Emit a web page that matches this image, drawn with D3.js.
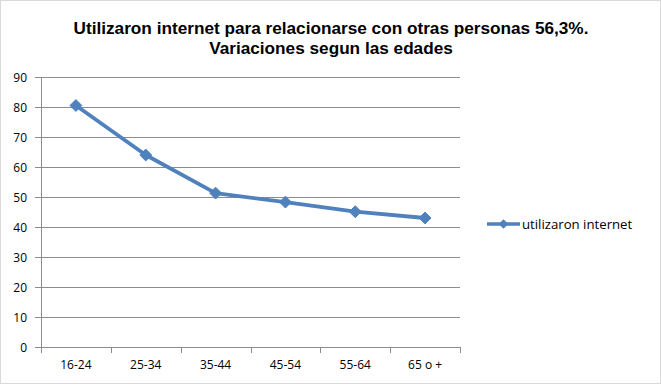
<!DOCTYPE html>
<html>
<head>
<meta charset="utf-8">
<script src="https://cdn.jsdelivr.net/npm/d3@7"></script>
<style>
  html, body { margin: 0; padding: 0; background: #fff; }
</style>
</head>
<body>
<div id="chart"></div>
<script>
// Chart data
const categories = ["16-24", "25-34", "35-44", "45-54", "55-64", "65 o +"];
const values = [80.5, 64, 51.3, 48.3, 45.1, 43];
const yTicks = [0, 10, 20, 30, 40, 50, 60, 70, 80, 90];
const seriesName = "utilizaron internet";
const titleLines = ["Utilizaron internet para relacionarse con otras personas 56,3%.", "Variaciones segun las edades"];

const width = 661;
const height = 386;
const margin = { top: 77, right: 201, bottom: 39, left: 41 };
const lineColor = "#4F81BD";
const labelFont = "'Open Sans', 'DejaVu Sans', sans-serif";

const svg = d3.select("#chart").append("svg")
    .attr("width", width)
    .attr("height", height);

// outer frame
svg.append("rect")
    .attr("x", 0.5).attr("y", 0.5)
    .attr("width", width - 1).attr("height", height - 3)
    .attr("fill", "#fff")
    .attr("stroke", "#d9d9d9");

// title
svg.append("g")
    .selectAll("text")
    .data(titleLines)
    .join("text")
    .attr("x", 331)
    .attr("y", (d, i) => 34 + i * 20)
    .attr("text-anchor", "middle")
    .attr("font-family", "'Liberation Sans', Arial, sans-serif")
    .attr("font-weight", "bold")
    .attr("font-size", 17.2)
    .attr("fill", "#000")
    .text(d => d);

const x = d3.scaleBand()
    .domain(categories)
    .range([margin.left, width - margin.right]);

const y = d3.scaleLinear()
    .domain([0, 90])
    .range([height - margin.bottom, margin.top]);

// gridlines
svg.append("g")
    .selectAll("line")
    .data(yTicks)
    .join("line")
    .attr("x1", margin.left - 6)
    .attr("x2", width - margin.right)
    .attr("y1", d => Math.round(y(d)) + 0.5)
    .attr("y2", d => Math.round(y(d)) + 0.5)
    .attr("stroke", "#8c8c8c")
    .attr("stroke-width", 1);

// vertical axis line
svg.append("line")
    .attr("x1", margin.left + 0.5).attr("x2", margin.left + 0.5)
    .attr("y1", y(90)).attr("y2", y(0) + 5)
    .attr("stroke", "#8c8c8c");

// y tick labels
svg.append("g")
    .selectAll("text")
    .data(yTicks)
    .join("text")
    .attr("x", 27)
    .attr("y", d => y(d) + 4.5)
    .attr("text-anchor", "end")
    .attr("font-family", labelFont)
    .attr("font-size", 12)
    .attr("fill", "#000")
    .text(d => d);

// x axis
const xAxis = svg.append("g")
    .attr("transform", `translate(0,${Math.round(y(0)) + 0.5})`)
    .call(d3.axisBottom(x).tickSize(0).tickPadding(13));
xAxis.select(".domain").remove();
xAxis.selectAll("text")
    .attr("font-family", labelFont)
    .attr("font-size", 12)
    .attr("fill", "#000");

// category tick marks at band edges
const edges = categories.map(c => x(c)).concat([x(categories[categories.length - 1]) + x.bandwidth()]);
svg.append("g")
    .selectAll("line")
    .data(edges)
    .join("line")
    .attr("x1", d => Math.round(d) + 0.5)
    .attr("x2", d => Math.round(d) + 0.5)
    .attr("y1", Math.round(y(0)))
    .attr("y2", Math.round(y(0)) + 6)
    .attr("stroke", "#8c8c8c");

// series line
const pts = categories.map((c, i) => [x(c) + x.bandwidth() / 2, y(values[i])]);
svg.append("path")
    .datum(pts)
    .attr("fill", "none")
    .attr("stroke", lineColor)
    .attr("stroke-width", 3.8)
    .attr("stroke-linejoin", "round")
    .attr("stroke-linecap", "round")
    .attr("d", d3.line());

// markers
const diamond = d3.symbol().type(d3.symbolDiamond2).size(90);
svg.append("g")
    .selectAll("path")
    .data(pts)
    .join("path")
    .attr("transform", d => `translate(${d[0]},${d[1]})`)
    .attr("d", diamond)
    .attr("fill", lineColor)
    .attr("stroke", lineColor)
    .attr("stroke-width", 1);

// legend
const legend = svg.append("g").attr("transform", "translate(487,224)");
legend.append("line")
    .attr("x1", 0).attr("x2", 33)
    .attr("y1", 0).attr("y2", 0)
    .attr("stroke", lineColor)
    .attr("stroke-width", 3.5);
legend.append("path")
    .attr("transform", "translate(16.5,0)")
    .attr("d", d3.symbol().type(d3.symbolDiamond2).size(60))
    .attr("fill", lineColor);
legend.append("text")
    .attr("x", 35)
    .attr("y", 5)
    .attr("font-family", labelFont)
    .attr("font-size", 13.2)
    .attr("fill", "#000")
    .text(seriesName);
</script>
</body>
</html>
